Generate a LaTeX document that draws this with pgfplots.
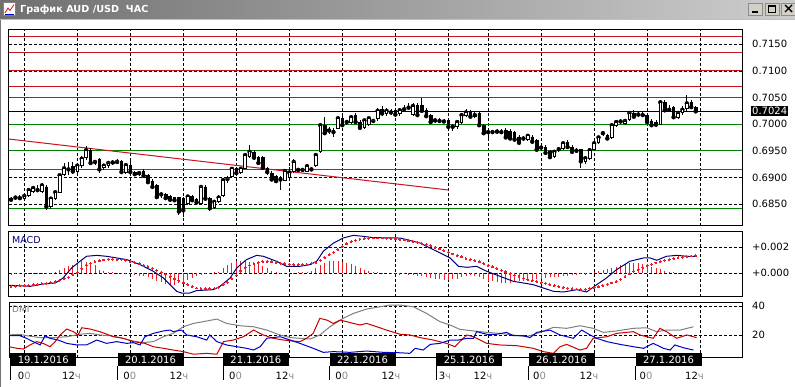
\documentclass[border=0pt]{standalone}
\usepackage{fontspec}
\setmainfont{DejaVu Sans}
\usepackage{pgfplots}
\usepackage{pgfplotstable}
\pgfplotsset{compat=1.18}
\definecolor{srred}{RGB}{200,20,30}
\definecolor{srgreen}{RGB}{0,128,0}
\definecolor{macdnavy}{RGB}{0,0,128}
\definecolor{sigred}{RGB}{235,30,40}
\definecolor{dmired}{RGB}{200,0,0}
\definecolor{dmiblue}{RGB}{0,0,200}
\definecolor{dmigray}{RGB}{128,128,128}
\definecolor{titleL}{RGB}{112,112,112}
\definecolor{titleR}{RGB}{205,205,205}
\definecolor{btn}{RGB}{212,208,200}

\pgfplotstableread{
t o hi lo c
-3 0.6861 0.6864 0.6855 0.6858
-2 0.6860 0.6864 0.6857 0.6862
-1 0.6862 0.6866 0.6858 0.6861
0 0.6861 0.6870 0.6858 0.6865
1 0.6866 0.6880 0.6864 0.6876
2 0.6874 0.6884 0.6870 0.6880
3 0.6878 0.6886 0.6872 0.6876
4 0.6873 0.6890 0.6871 0.6885
5 0.6882 0.6885 0.6839 0.6845
6 0.6846 0.6863 0.6840 0.6860
7 0.6860 0.6875 0.6857 0.6872
8 0.6872 0.6906 0.6870 0.6904
9 0.6906 0.6927 0.6903 0.6917
10 0.6916 0.6928 0.6905 0.6915
11 0.6920 0.6928 0.6906 0.6911
12 0.6912 0.6925 0.6906 0.6922
13 0.6922 0.6940 0.6918 0.6935
14 0.6937 0.6959 0.6933 0.6951
15 0.6951 0.6955 0.6925 0.6927
16 0.6928 0.6933 0.6924 0.6929
17 0.6934 0.6936 0.6908 0.6915
18 0.6918 0.6926 0.6914 0.6922
19 0.6922 0.6930 0.6918 0.6927
20 0.6927 0.6932 0.6923 0.6928
21 0.6928 0.6934 0.6925 0.6929
22 0.6930 0.6932 0.6908 0.6910
23 0.6910 0.6926 0.6906 0.6923
24 0.6923 0.6930 0.6906 0.6910
25 0.6910 0.6912 0.6902 0.6906
26 0.6906 0.6911 0.6903 0.6908
27 0.6912 0.6916 0.6900 0.6903
28 0.6903 0.6906 0.6888 0.6891
29 0.6893 0.6896 0.6878 0.6882
30 0.6885 0.6887 0.6860 0.6863
31 0.6866 0.6872 0.6862 0.6868
32 0.6868 0.6870 0.6858 0.6861
33 0.6864 0.6866 0.6855 0.6858
34 0.6862 0.6864 0.6853 0.6857
35 0.6862 0.6864 0.6829 0.6836
36 0.6860 0.6863 0.6826 0.6838
37 0.6852 0.6867 0.6848 0.6864
38 0.6864 0.6867 0.6854 0.6857
39 0.6859 0.6862 0.6849 0.6853
40 0.6851 0.6885 0.6848 0.6882
41 0.6882 0.6886 0.6856 0.6860
42 0.6860 0.6863 0.6836 0.6842
43 0.6843 0.6857 0.6840 0.6854
44 0.6855 0.6866 0.6852 0.6862
45 0.6866 0.6898 0.6864 0.6895
46 0.6896 0.6902 0.6890 0.6897
47 0.6902 0.6920 0.6898 0.6916
48 0.6917 0.6920 0.6904 0.6908
49 0.6910 0.6920 0.6906 0.6916
50 0.6917 0.6945 0.6915 0.6942
51 0.6940 0.6961 0.6937 0.6948
52 0.6947 0.6952 0.6933 0.6937
53 0.6938 0.6940 0.6925 0.6927
54 0.6937 0.6940 0.6915 0.6918
55 0.6916 0.6920 0.6905 0.6910
56 0.6908 0.6912 0.6893 0.6896
57 0.6902 0.6905 0.6890 0.6893
58 0.6897 0.6903 0.6876 0.6896
59 0.6895 0.6916 0.6893 0.6912
60 0.6900 0.6920 0.6897 0.6909
61 0.6912 0.6934 0.6908 0.6929
62 0.6915 0.6918 0.6910 0.6914
63 0.6913 0.6918 0.6910 0.6914
64 0.6912 0.6925 0.6910 0.6921
65 0.6916 0.6920 0.6912 0.6915
66 0.6923 0.6946 0.6920 0.6942
67 0.6948 0.7000 0.6945 0.6998
68 0.6998 0.7013 0.6980 0.6983
69 0.6990 0.6994 0.6982 0.6988
70 0.6988 0.6993 0.6976 0.6985
71 0.6992 0.7014 0.6990 0.7011
72 0.7011 0.7015 0.6995 0.6998
73 0.7003 0.7008 0.6998 0.7004
74 0.7003 0.7018 0.7000 0.7013
75 0.7017 0.7020 0.7000 0.7004
76 0.7004 0.7007 0.6990 0.6993
77 0.6994 0.7010 0.6991 0.7007
78 0.7000 0.7014 0.6997 0.7011
79 0.7005 0.7010 0.7002 0.7006
80 0.7010 0.7030 0.7006 0.7025
81 0.7028 0.7034 0.7015 0.7020
82 0.7020 0.7030 0.7016 0.7025
83 0.7023 0.7028 0.7018 0.7022
84 0.7026 0.7031 0.7014 0.7018
85 0.7020 0.7031 0.7016 0.7026
86 0.7027 0.7036 0.7022 0.7028
87 0.7030 0.7040 0.7026 0.7031
88 0.7018 0.7040 0.7016 0.7034
89 0.7035 0.7040 0.7014 0.7017
90 0.7036 0.7049 0.7022 0.7025
91 0.7026 0.7030 0.7012 0.7015
92 0.7016 0.7019 0.7001 0.7004
93 0.7006 0.7012 0.7002 0.7007
94 0.7007 0.7011 0.7003 0.7006
95 0.7006 0.7009 0.7002 0.7005
96 0.7007 0.7010 0.6992 0.6995
97 0.6996 0.7000 0.6988 0.6995
98 0.6995 0.7008 0.6990 0.7004
99 0.7004 0.7020 0.7000 0.7017
100 0.7017 0.7028 0.7014 0.7022
101 0.7022 0.7026 0.7011 0.7014
102 0.7015 0.7022 0.7011 0.7017
103 0.7020 0.7024 0.6996 0.6998
104 0.6998 0.7000 0.6980 0.6983
105 0.6986 0.6990 0.6972 0.6985
106 0.6986 0.6989 0.6982 0.6985
107 0.6985 0.6990 0.6981 0.6986
108 0.6986 0.6990 0.6982 0.6985
109 0.6989 0.6992 0.6972 0.6975
110 0.6986 0.6990 0.6970 0.6973
111 0.6985 0.6988 0.6967 0.6971
112 0.6976 0.6980 0.6960 0.6965
113 0.6974 0.6978 0.6968 0.6973
114 0.6972 0.6982 0.6968 0.6978
115 0.6976 0.6980 0.6963 0.6967
116 0.6970 0.6973 0.6948 0.6952
117 0.6955 0.6960 0.6950 0.6956
118 0.6956 0.6960 0.6943 0.6946
119 0.6948 0.6951 0.6935 0.6938
120 0.6939 0.6951 0.6936 0.6948
121 0.6952 0.6957 0.6948 0.6953
122 0.6955 0.6967 0.6952 0.6964
123 0.6966 0.6970 0.6954 0.6957
124 0.6957 0.6960 0.6945 0.6948
125 0.6951 0.6955 0.6946 0.6950
126 0.6952 0.6954 0.6918 0.6930
127 0.6930 0.6940 0.6926 0.6936
128 0.6936 0.6955 0.6932 0.6951
129 0.6952 0.6968 0.6949 0.6964
130 0.6965 0.6978 0.6962 0.6975
131 0.6982 0.6987 0.6978 0.6983
132 0.6979 0.6982 0.6970 0.6973
133 0.6975 0.7002 0.6972 0.6998
134 0.6998 0.7008 0.6995 0.7004
135 0.7004 0.7010 0.7000 0.7005
136 0.7002 0.7010 0.6999 0.7006
137 0.7008 0.7025 0.7005 0.7021
138 0.7021 0.7026 0.7011 0.7014
139 0.7017 0.7023 0.7013 0.7018
140 0.7018 0.7023 0.7013 0.7017
141 0.7017 0.7020 0.7001 0.7004
142 0.7006 0.7009 0.6995 0.6998
143 0.7004 0.7007 0.6994 0.6999
144 0.7000 0.7045 0.6998 0.7041
145 0.7041 0.7045 0.7022 0.7026
146 0.7028 0.7036 0.7022 0.7027
147 0.7031 0.7035 0.7009 0.7013
148 0.7013 0.7025 0.7010 0.7021
149 0.7022 0.7035 0.7018 0.7027
150 0.7029 0.7055 0.7025 0.7039
151 0.7041 0.7045 0.7028 0.7032
152 0.7032 0.7035 0.7021 0.7024
}\candles

\pgfplotstableread{
t sig hist
-3 -0.00104 -0.00013
-2 -0.00102 -0.00010
-1 -0.00100 -0.00008
0 -0.00098 -0.00003
1 -0.00096 0.00002
2 -0.00093 0.00003
3 -0.00089 -0.00002
4 -0.00085 0.00003
5 -0.00081 -0.00005
6 -0.00076 0.00002
7 -0.00066 0.00005
8 -0.00056 0.00026
9 -0.00045 0.00039
10 -0.00032 0.00052
11 -0.00015 0.00065
12 0.00003 0.00078
13 0.00033 0.00091
14 0.00062 0.00085
15 0.00075 0.00080
16 0.00087 0.00065
17 0.00095 0.00026
18 0.00101 0.00015
19 0.00107 0.00010
20 0.00108 0.00005
21 0.00107 0.00003
22 0.00105 -0.00003
23 0.00100 -0.00005
24 0.00090 -0.00010
25 0.00081 -0.00013
26 0.00072 -0.00020
27 0.00061 -0.00026
28 0.00050 -0.00035
29 0.00037 -0.00045
30 0.00022 -0.00060
31 0.00007 -0.00070
32 -0.00009 -0.00085
33 -0.00027 -0.00091
34 -0.00045 -0.00091
35 -0.00061 -0.00080
36 -0.00078 -0.00070
37 -0.00091 -0.00055
38 -0.00104 -0.00040
39 -0.00117 -0.00026
40 -0.00121 -0.00013
41 -0.00124 -0.00005
42 -0.00122 -0.00005
43 -0.00119 0.00005
44 -0.00111 0.00010
45 -0.00092 0.00039
46 -0.00073 0.00060
47 -0.00045 0.00078
48 -0.00016 0.00091
49 0.00016 0.00091
50 0.00043 0.00091
51 0.00061 0.00085
52 0.00072 0.00080
53 0.00081 0.00070
54 0.00087 0.00055
55 0.00090 0.00039
56 0.00086 0.00013
57 0.00082 0.00005
58 0.00077 -0.00005
59 0.00073 -0.00010
60 0.00069 -0.00010
61 0.00065 -0.00005
62 0.00065 0.00005
63 0.00065 0.00005
64 0.00067 0.00010
65 0.00075 0.00013
66 0.00083 0.00039
67 0.00099 0.00060
68 0.00120 0.00078
69 0.00142 0.00091
70 0.00161 0.00091
71 0.00184 0.00091
72 0.00206 0.00085
73 0.00227 0.00078
74 0.00244 0.00070
75 0.00254 0.00052
76 0.00264 0.00039
77 0.00268 0.00026
78 0.00271 0.00013
79 0.00272 0.00005
80 0.00272 0.00005
81 0.00272 0.00003
82 0.00271 0.00000
83 0.00268 -0.00003
84 0.00265 -0.00005
85 0.00262 -0.00013
86 0.00257 -0.00010
87 0.00251 -0.00013
88 0.00245 -0.00015
89 0.00240 -0.00020
90 0.00231 -0.00026
91 0.00222 -0.00030
92 0.00213 -0.00039
93 0.00201 -0.00045
94 0.00187 -0.00050
95 0.00174 -0.00052
96 0.00161 -0.00052
97 0.00148 -0.00050
98 0.00137 -0.00045
99 0.00125 -0.00030
100 0.00113 -0.00020
101 0.00105 -0.00015
102 0.00095 -0.00020
103 0.00086 -0.00030
104 0.00074 -0.00045
105 0.00060 -0.00060
106 0.00047 -0.00065
107 0.00033 -0.00070
108 0.00021 -0.00078
109 0.00008 -0.00078
110 -0.00005 -0.00078
111 -0.00019 -0.00070
112 -0.00030 -0.00065
113 -0.00040 -0.00060
114 -0.00049 -0.00055
115 -0.00058 -0.00052
116 -0.00066 -0.00050
117 -0.00074 -0.00045
118 -0.00082 -0.00040
119 -0.00091 -0.00035
120 -0.00098 -0.00030
121 -0.00105 -0.00030
122 -0.00112 -0.00026
123 -0.00118 -0.00020
124 -0.00122 -0.00015
125 -0.00125 -0.00015
126 -0.00128 -0.00010
127 -0.00127 -0.00013
128 -0.00120 -0.00010
129 -0.00113 0.00005
130 -0.00106 0.00013
131 -0.00098 0.00020
132 -0.00088 0.00030
133 -0.00078 0.00039
134 -0.00066 0.00050
135 -0.00048 0.00060
136 -0.00027 0.00070
137 -0.00007 0.00078
138 0.00014 0.00078
139 0.00028 0.00078
140 0.00041 0.00070
141 0.00055 0.00060
142 0.00067 0.00050
143 0.00078 0.00039
144 0.00088 0.00030
145 0.00099 0.00013
146 0.00106 0.00008
147 0.00112 0.00005
148 0.00117 0.00003
149 0.00123 0.00000
150 0.00128 0.00000
151 0.00132 0.00000
152 0.00135 0.00000
}\macdtab

\pgfplotsset{
  panel/.style={scale only axis, width=733pt, xmin=-3.464, xmax=162.49,
    anchor=north west, axis line style={black, line width=1pt},
    grid=major, major grid style={black, line width=0.8pt, dash pattern=on 3pt off 2pt},
    xtick={0,12,24,36,48,60,72,84,96,105,117,129,141,153}, xticklabels={},
    major tick length=0pt, yticklabel pos=right,
    yticklabel style={anchor=west, inner sep=0pt, xshift=10pt, font=\fontsize{10}{11}\selectfont},
    scaled y ticks=false, clip=true},
}

\newcommand{\daylab}[6]{%
  \node[fill=black, text=white, font=\fontsize{10}{11}\selectfont, anchor=north west,
        minimum width=66pt, minimum height=12.5pt, inner sep=0pt] at (#1,33.7) {#2};
  \draw[black, line width=1pt] (#1+0.5,21.3) -- (#1+0.5,7);
  \node[font=\fontsize{10}{11}\selectfont, inner sep=0pt] at (#3,11) {#4};
  \node[font=\fontsize{10}{11}\selectfont, inner sep=0pt] at (#5,11) {#6};
}

\begin{document}
\begin{tikzpicture}[x=1pt,y=1pt]
\useasboundingbox (0,0) rectangle (795,387);
\fill[white] (0,0) rectangle (795,387);
% title bar
\shade[left color=titleL, right color=titleR] (0,368) rectangle (795,387);
\fill[black!25] (0,366.5) rectangle (795,368);
\draw[black!55, line width=1pt] (0.5,0) -- (0.5,366.5);
\draw[fill=white, draw=black!50] (3.5,371.5) rectangle (15.5,384.5);
\draw[srred, line width=0.8pt] (5,374) -- (8,379) -- (10,376.5) -- (14,382.5);
\draw[dmiblue, line width=0.6pt] (5,373) -- (14,373);
\node[anchor=west, text=white, font=\bfseries\fontsize{9.7}{11}\selectfont, inner sep=0pt] at (20,377.5) {График AUD /USD\ \ ЧАС};
\foreach \bx in {748,765,781.5} {
  \fill[btn] (\bx,372) rectangle (\bx+14,384);
  \draw[black!45] (\bx,372) rectangle (\bx+14,384);
}
\fill[black] (751.5,374) rectangle (757.5,375.8);
\draw[black, line width=1pt] (768.5,374.5) rectangle (775.5,381.5);
\draw[black, line width=2pt] (768.5,381) -- (775.5,381);
\draw[black, line width=1.4pt] (785,375) -- (792,382) (785,382) -- (792,375);

% ---------- price panel ----------
\begin{axis}[panel, at={(9pt,357.7pt)}, height=196.4pt,
  ymin=0.68092, ymax=0.71782,
  ytick={0.685,0.69,0.695,0.70,0.705,0.71,0.715},
  yticklabels={0.6850,0.6900,0.6950,0.7000,0.7050,0.7100,0.7150}]
  \addplot[srred, line width=1pt] coordinates {(-3.464,0.71643) (162.49,0.71643)};
  \addplot[srred, line width=1pt] coordinates {(-3.464,0.71337) (162.49,0.71337)};
  \addplot[srred, line width=1pt] coordinates {(-3.464,0.71000) (162.49,0.71000)};
  \addplot[srred, line width=1pt] coordinates {(-3.464,0.70705) (162.49,0.70705)};
  \addplot[srred, line width=1pt] coordinates {(-3.464,0.70500) (162.49,0.70500)};
  \addplot[black, line width=1pt] coordinates {(-3.464,0.70243) (162.49,0.70243)};
  \addplot[srgreen, line width=1pt] coordinates {(-3.464,0.70000) (162.49,0.70000)};
  \addplot[srgreen, line width=1pt] coordinates {(-3.464,0.69500) (162.49,0.69500)};
  \addplot[srgreen, line width=1pt] coordinates {(-3.464,0.69156) (162.49,0.69156)};
  \addplot[srgreen, line width=1pt] coordinates {(-3.464,0.68408) (162.49,0.68408)};
  \addplot[srred, line width=1pt] coordinates {(-3.464,0.69720) (96.1,0.68762)};
  % wicks
  \addplot[only marks, mark=none, error bars/.cd, y dir=both, y explicit, error mark=none,
    error bar style={draw=black, line width=0.8pt}]
    table[x=t, y=c, y error plus expr=\thisrow{hi}-\thisrow{c}, y error minus expr=\thisrow{c}-\thisrow{lo}] {\candles};
\end{axis}
% candle bodies
\begin{axis}[scale only axis, width=733pt, height=196.4pt, at={(9pt,357.7pt)}, anchor=north west,
  xmin=-3.464, xmax=162.49, ymin=0.68092, ymax=0.71782, hide axis, clip=true,
  ybar stacked, bar width=2.6pt]
  \addplot[draw=none, fill=none] table[x=t, y expr={min(\thisrow{o},\thisrow{c})}] {\candles};
  \addplot[draw=black, fill=white, line width=0.8pt] table[x=t, y expr={max(\thisrow{c}-\thisrow{o},0)}] {\candles};
  \addplot[draw=black, fill=black, line width=0.8pt] table[x=t, y expr={max(\thisrow{o}-\thisrow{c},0)}] {\candles};
\end{axis}
\node[fill=black, text=white, font=\fontsize{10}{11}\selectfont, anchor=west, inner sep=1pt,
      minimum height=10pt] at (751,275.7) {0.7024};

% ---------- MACD panel ----------
\begin{axis}[panel, at={(9pt,155pt)}, height=65pt,
  ymin=-0.00187, ymax=0.00319, ytick={0,0.002}, yticklabels={+0.000,+0.002}]
  \addplot[sigred, ycomb, line width=0.8pt, mark=none] table[x=t, y=hist] {\macdtab};
  \addplot[macdnavy, line width=1pt, mark=none] coordinates {
   (-3.46,-0.00096) (-1,-0.00100) (1.3,-0.00104) (4.3,-0.00086) (7,-0.00078) (8.8,-0.00039)
   (10.7,0.00039) (12.6,0.00091) (14.1,0.00130) (16.4,0.00137) (18.6,0.00130) (23.2,0.00104)
   (26.2,0.00065) (29.2,0.00013) (31.5,-0.00039) (33,-0.00091) (34.5,-0.00143) (35.6,-0.00156)
   (37.5,-0.00156) (39,-0.00137) (42.8,-0.00130) (44.3,-0.00104) (46.6,-0.00039) (48.1,0.00039)
   (50.3,0.00104) (52.6,0.00137) (54.1,0.00130) (57.1,0.00091) (59.4,0.00052) (62.4,0.00052)
   (64.7,0.00065) (66.2,0.00091) (67.7,0.00169) (70,0.00233) (72.2,0.00272) (74.5,0.00293)
   (76.8,0.00285) (79,0.00275) (85.1,0.00272) (89.6,0.00233) (92.6,0.00182) (96.4,0.00117)
   (98.3,0.00052) (100.2,0.00044) (102.4,0.00052) (104.7,0.00013) (107.7,-0.00026) (110.7,-0.00065)
   (113,-0.00078) (115.2,-0.00091) (117.5,-0.00117) (119.8,-0.00143) (122.1,-0.00148) (125.1,-0.00130)
   (127.3,-0.00148) (129.6,-0.00091) (131.8,-0.00039) (134.1,0.00026) (137.1,0.00091) (140.2,0.00117)
   (141.7,0.00117) (143.2,0.00099) (145.4,0.00130) (147.7,0.00137) (150,0.00130) (152.2,0.00130)};
  \addplot[sigred, only marks, mark=*, mark size=0.95pt, mark options={draw=sigred, fill=sigred, line width=0pt}] table[x=t, y=sig] {\macdtab};
  \node[anchor=north west, text=macdnavy, font=\fontsize{9.5}{10}\selectfont, inner sep=0pt] at (rel axis cs:0.004,0.93) {MACD};
\end{axis}

% ---------- DMI panel ----------
\begin{axis}[panel, at={(9pt,84.7pt)}, height=55.4pt,
  ymin=4.3, ymax=42.6, ytick={20,40}, yticklabels={20,40}]
  \addplot[dmigray, line width=1pt, mark=none] coordinates {
   (-3.5,20.0) (-1.0,20.5) (0.5,19.5) (3.6,18.2) (6.6,18.2) (9.6,18.8) (12.6,20.5) (14.9,21.1)
   (17.1,20.0) (19.4,19.5) (21.7,18.2) (24.7,15.8) (26.9,14.7) (29.2,15.4) (31.5,18.8) (33.7,21.1)
   (36.0,25.7) (38.3,28.0) (40.5,29.2) (43.6,31.0) (45.8,28.0) (48.8,26.4) (51.9,25.7) (54.9,23.4)
   (57.9,20.0) (60.2,18.2) (62.4,17.7) (64.7,17.2) (66.9,20.0) (69.2,25.7) (72.2,31.5) (74.5,34.9)
   (77.5,37.9) (80.5,39.5) (82.8,40.7) (85.1,40.7) (88.1,39.5) (91.1,34.9) (94.1,29.2) (96.4,26.9)
   (98.6,23.9) (101.7,22.8) (104.7,21.8) (107.7,21.1) (110.7,20.0) (113.7,18.8) (116.8,21.8)
   (119.8,25.3) (122.8,24.6) (125.8,26.4) (128.8,24.6) (131.1,21.8) (134.1,22.8) (137.9,24.6)
   (140.9,25.0) (143.2,22.3) (145.4,23.4) (148.5,23.4) (151.5,25.7)};
  \addplot[dmired, line width=1pt, mark=none] coordinates {
   (-3.5,11.9) (-1.7,10.8) (-0.2,10.3) (1.3,13.1) (2.8,15.4) (4.3,14.2) (5.8,11.9) (7.0,15.4)
   (8.1,20.0) (9.6,24.1) (11.1,22.3) (12.2,20.0) (13.0,25.0) (14.9,24.1) (17.1,22.3) (20.2,18.8)
   (22.4,17.7) (24.7,15.4) (27.3,14.2) (29.2,11.9) (31.5,10.8) (33.7,9.6) (36.0,8.5) (38.3,6.7)
   (41.3,7.3) (43.6,6.7) (45.1,15.4) (47.3,16.5) (49.6,18.8) (51.9,23.4) (54.1,20.0) (56.4,17.7)
   (58.7,16.5) (60.9,15.8) (62.4,15.4) (63.9,17.7) (65.4,21.1) (66.9,31.5) (68.5,30.3) (69.97,28.0)
   (71.5,30.3) (73.0,29.2) (74.5,28.0) (76.0,26.9) (77.5,28.0) (79.8,25.7) (82.0,23.4) (85.1,20.5)
   (87.3,20.0) (89.6,18.2) (92.6,16.5) (95.6,14.2) (97.5,11.9) (98.6,15.4) (100.2,20.0) (101.7,18.8)
   (104.7,14.2) (107.7,13.1) (111.5,12.6) (115.2,10.8) (117.5,8.5) (119.8,7.3) (121.3,11.9)
   (122.8,13.5) (125.8,9.6) (127.3,10.8) (128.8,17.7) (131.9,18.8) (134.1,21.1) (137.9,22.3)
   (139.4,20.0) (142.4,17.7) (143.9,24.6) (145.4,22.3) (147.7,17.7) (150.0,20.0) (152.2,18.2)};
  \addplot[dmiblue, line width=1pt, mark=none] coordinates {
   (-3.5,19.5) (-1.0,19.5) (0.5,17.7) (2.0,15.4) (3.6,13.1) (4.7,19.5) (5.8,17.7) (7.7,16.5)
   (9.6,14.2) (11.9,13.1) (14.1,13.1) (16.4,16.5) (18.6,14.2) (20.9,15.4) (23.2,14.2) (24.7,14.7)
   (26.2,13.1) (27.3,18.8) (29.2,21.1) (31.5,22.8) (33.0,23.4) (33.7,22.3) (35.6,23.4) (36.8,20.0)
   (39.0,18.8) (41.3,16.5) (42.0,20.0) (43.6,15.4) (45.8,13.1) (48.1,11.9) (50.3,10.8) (51.9,9.6)
   (53.4,11.9) (54.9,17.7) (56.4,18.2) (57.9,18.8) (60.2,16.5) (62.4,14.2) (65.4,10.8) (67.7,8.0)
   (69.97,8.5) (73.7,8.0) (77.5,8.9) (81.3,8.0) (85.1,7.7) (87.3,7.3) (88.5,10.8) (90.3,9.6)
   (91.9,13.5) (94.1,14.2) (96.4,16.5) (98.3,16.5) (100.2,17.7) (101.7,17.7) (102.4,22.3)
   (104.7,20.5) (106.9,20.5) (109.2,21.8) (110.7,19.5) (113.0,19.5) (114.5,18.2) (116.0,21.8)
   (119.0,23.4) (121.3,20.0) (124.3,17.7) (126.2,23.4) (128.1,20.0) (129.6,17.7) (131.9,15.4)
   (134.9,13.5) (137.9,11.9) (140.2,10.8) (142.4,14.2) (144.7,10.8) (146.2,9.6) (147.3,13.1)
   (149.2,11.2) (151.5,9.6)};
  \node[anchor=north west, text=dmigray, font=\fontsize{9}{10}\selectfont, inner sep=0pt] at (rel axis cs:0.004,0.93) {DMI};
\end{axis}

% ---------- date labels ----------
\daylab{10}{19.1.2016}{24.3}{0\textcolor{black!45}{0}}{71.5}{12\textcolor{black!45}{ч}}
\daylab{117.3}{20.1.2016}{129.8}{0\textcolor{black!45}{0}}{179}{12\textcolor{black!45}{ч}}
\daylab{222.7}{21.1.2016}{235.5}{0\textcolor{black!45}{0}}{285}{12\textcolor{black!45}{ч}}
\daylab{329.3}{22.1.2016}{341.8}{0\textcolor{black!45}{0}}{391}{12\textcolor{black!45}{ч}}
\daylab{436}{25.1.2016}{445}{3\textcolor{black!45}{ч}}{483}{12\textcolor{black!45}{ч}}
\daylab{528.3}{26.1.2016}{539.5}{0\textcolor{black!45}{0}}{589}{12\textcolor{black!45}{ч}}
\daylab{635.3}{27.1.2016}{646}{0\textcolor{black!45}{0}}{694.5}{12\textcolor{black!45}{ч}}
\end{tikzpicture}
\end{document}
